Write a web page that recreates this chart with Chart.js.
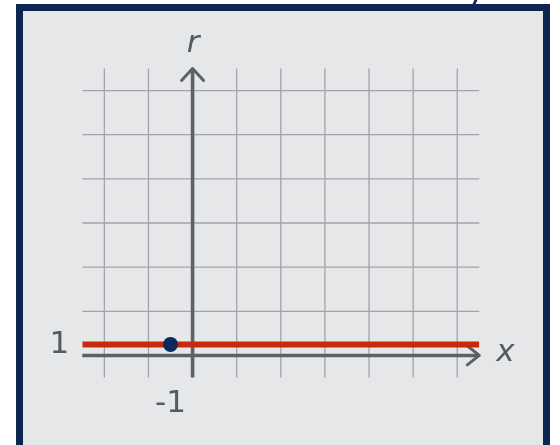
<!DOCTYPE html>
<html>
<head>
<meta charset="utf-8">
<script src="https://cdn.jsdelivr.net/npm/chart.js@4/dist/chart.umd.min.js"></script>
<style>
  html, body { margin: 0; padding: 0; background: #ffffff; }
  body { width: 560px; height: 445px; position: relative; overflow: hidden; }
  #frame {
    position: absolute; left: 16px; top: 4px; width: 520px; height: 445px;
    background: #e6e7e9; border: 7px solid #0c2551; box-sizing: content-box;
  }
  #wrap { position: absolute; left: 0; top: 0; width: 560px; height: 445px; }
  #nub { position: absolute; left: 474px; top: -2px; width: 3px; height: 6px; background: #0c2551; transform: skewX(-25deg); }
</style>
</head>
<body>
<div id="frame"></div>
<div id="nub"></div>
<div id="wrap"><canvas id="c" width="560" height="445"></canvas></div>
<script>
// ---- data ----
const xRange = [-5, 13];
const yRange = [-2, 26];
const xGridValues = [-4, -2, 0, 2, 4, 6, 8, 10, 12];
const yGridValues = [4, 8, 12, 16, 20, 24];
const xTickValues = [-1];
const xTickLabels = ['-1'];
const yTickValues = [1];
const yTickLabels = ['1'];
const lineR = 1;                 // horizontal line r = 1
const pointX = [-1];
const pointR = [1];
const xAxisTitle = 'x';
const yAxisTitle = 'r';

const FONT = '"DejaVu Sans", Verdana, sans-serif';
const TEXT = '#56595e';
const AXIS = '#5d6065';
const GRID = '#a2a3a6';

const overlay = {
  id: 'overlay',
  beforeDatasetsDraw(chart) {
    const ctx = chart.ctx, xs = chart.scales.x, ys = chart.scales.y;
    const top = ys.getPixelForValue(yRange[1]), bot = ys.getPixelForValue(yRange[0]);
    const left = xs.getPixelForValue(xRange[0]), right = xs.getPixelForValue(xRange[1]);
    ctx.save();
    ctx.strokeStyle = GRID; ctx.lineWidth = 1.3;
    xGridValues.forEach(v => {
      const p = xs.getPixelForValue(v);
      ctx.beginPath(); ctx.moveTo(p, top); ctx.lineTo(p, bot); ctx.stroke();
    });
    yGridValues.forEach(v => {
      const p = ys.getPixelForValue(v);
      ctx.beginPath(); ctx.moveTo(left, p); ctx.lineTo(right, p); ctx.stroke();
    });
    // axes
    const x0 = xs.getPixelForValue(0), y0 = ys.getPixelForValue(0);
    ctx.strokeStyle = AXIS; ctx.lineWidth = 3.6; ctx.lineCap = 'butt';
    ctx.beginPath(); ctx.moveTo(left, y0); ctx.lineTo(right - 1, y0); ctx.stroke();
    ctx.beginPath(); ctx.moveTo(x0, bot); ctx.lineTo(x0, top + 1); ctx.stroke();
    // arrow heads
    ctx.lineWidth = 3; ctx.lineCap = 'round'; ctx.lineJoin = 'round';
    const a = 11;
    ctx.beginPath(); ctx.moveTo(right - 12, y0 - 9.5); ctx.lineTo(right, y0); ctx.lineTo(right - 12, y0 + 9.5); ctx.stroke();
    ctx.beginPath(); ctx.moveTo(x0 - a, top + 12); ctx.lineTo(x0, top); ctx.lineTo(x0 + a, top + 12); ctx.stroke();
    ctx.restore();
  },
  afterDraw(chart) {
    const ctx = chart.ctx, xs = chart.scales.x, ys = chart.scales.y;
    const bot = ys.getPixelForValue(yRange[0]);
    const left = xs.getPixelForValue(xRange[0]);
    const right = xs.getPixelForValue(xRange[1]);
    const top = ys.getPixelForValue(yRange[1]);
    ctx.save();
    ctx.fillStyle = TEXT; ctx.textAlign = 'center'; ctx.textBaseline = 'middle';
    ctx.font = '31px ' + FONT;
    xTickValues.forEach((v, i) => ctx.fillText(xTickLabels[i], xs.getPixelForValue(v), bot + 26));
    yTickValues.forEach((v, i) => ctx.fillText(yTickLabels[i], left - 23, ys.getPixelForValue(v) + 1));
    ctx.font = 'italic 31px ' + FONT;
    ctx.fillText(xAxisTitle, right + 26, ys.getPixelForValue(0) - 2);
    ctx.fillText(yAxisTitle, xs.getPixelForValue(0) + 0.5, top - 25);
    ctx.restore();
  }
};

new Chart(document.getElementById('c'), {
  type: 'scatter',
  data: {
    datasets: [
      {
        type: 'scatter',
        data: pointX.map((x, i) => ({ x: x, y: pointR[i] })),
        backgroundColor: '#0a2a5c', borderColor: '#0a2a5c',
        pointRadius: 7.5, pointHoverRadius: 7.5, borderWidth: 0, order: 0
      },
      {
        type: 'line',
        data: [{ x: xRange[0], y: lineR }, { x: xRange[1], y: lineR }],
        borderColor: '#c8290c', borderWidth: 6, pointRadius: 0,
        fill: false, showLine: true, order: 1, borderCapStyle: 'butt'
      }
    ]
  },
  options: {
    responsive: false, animation: false, events: [],
    layout: { padding: { left: 82.3, right: 80.7, top: 68.5, bottom: 67.5 } },
    plugins: { legend: { display: false }, tooltip: { enabled: false } },
    scales: {
      x: { type: 'linear', display: false, min: xRange[0], max: xRange[1] },
      y: { type: 'linear', display: false, min: yRange[0], max: yRange[1] }
    }
  },
  plugins: [overlay]
});
</script>
</body>
</html>
